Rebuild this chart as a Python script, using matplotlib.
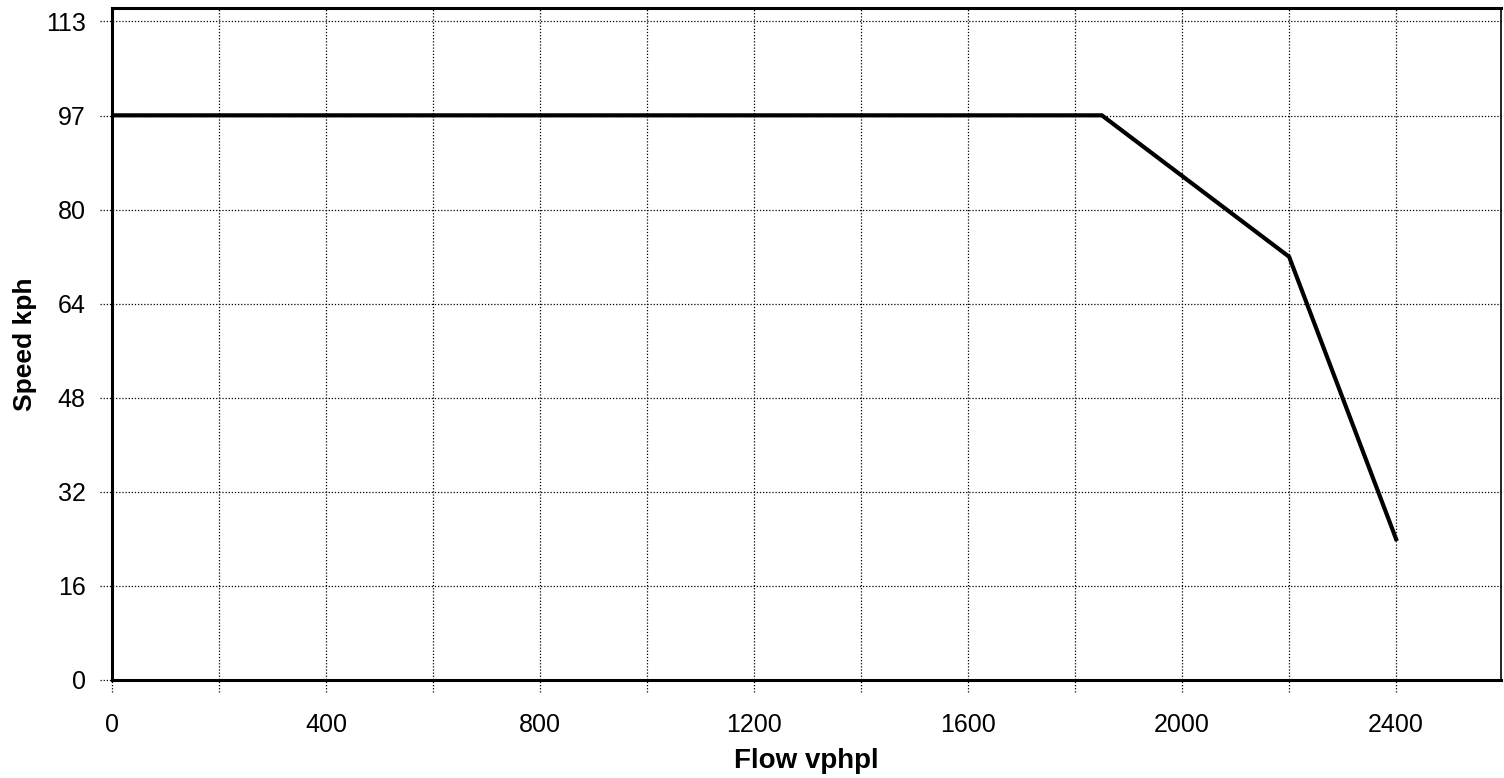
import matplotlib
matplotlib.use("Agg")
import matplotlib.pyplot as plt
import matplotlib.transforms as mtransforms
import numpy as np

plt.rcParams['font.family'] = ['Liberation Sans', 'DejaVu Sans']

# Data (speed in kph, flow in vphpl)
flow = [0, 1850, 2200, 2400]
speed = [96.6, 96.6, 72.4, 24.1]

# Axis tick labels (axis is linear in mph, labelled in kph)
y_tick_labels = ["0", "16", "32", "48", "64", "80", "97", "113"]
y_tick_mph = [0, 10, 20, 30, 40, 50, 60, 70]
x_tick_labels = [0, 400, 800, 1200, 1600, 2000, 2400]
x_grid = [200 * i for i in range(1, 13)]

KPH_PER_MPH = 1.609344
y_ticks = [m * KPH_PER_MPH for m in y_tick_mph]

fig = plt.figure(figsize=(15.04, 7.78), dpi=100)
ax = fig.add_axes([0.0745, 0.126, 0.9235, 0.864])
ax.set_xlim(0, 2596)
ax.set_ylim(0, 115.0)

# grid lines (dotted), extending slightly beyond the axes
trans_y = mtransforms.blended_transform_factory(ax.transAxes, ax.transData)
for yv in y_ticks[1:]:
    ax.plot([-0.009, 1.0], [yv, yv], transform=trans_y, color='black',
            lw=0.9, linestyle=(0, (1, 1.5)), clip_on=False, zorder=1)
ax.plot([-0.009, 0.0], [0, 0], transform=trans_y, color='black',
        lw=0.9, linestyle=(0, (1, 1.5)), clip_on=False, zorder=1)
trans_x = mtransforms.blended_transform_factory(ax.transData, ax.transAxes)
for xv in [0] + x_grid:
    ax.plot([xv, xv], [-0.018, 1.0], transform=trans_x, color='black',
            lw=0.9, linestyle=(0, (1, 1.5)), clip_on=False, zorder=1)

ax.plot(flow, speed, color='black', lw=3.0, solid_joinstyle='miter', zorder=3)

ax.set_yticks(y_ticks)
ax.set_yticklabels(y_tick_labels)
ax.set_xticks(x_tick_labels)
ax.set_xticklabels([str(v) for v in x_tick_labels])
ax.tick_params(axis='both', length=0, labelsize=18)
ax.tick_params(axis='y', pad=19)
ax.tick_params(axis='x', pad=24)

for s in ax.spines.values():
    s.set_linewidth(2.2)
    s.set_color('black')
ax.spines['right'].set_linewidth(1.2)

ax.set_xlabel("Flow vphpl", fontsize=20, fontweight='bold', labelpad=8)
ax.set_ylabel("Speed kph", fontsize=19, fontweight='bold', labelpad=6)

fig.savefig("out.png", dpi=100)
